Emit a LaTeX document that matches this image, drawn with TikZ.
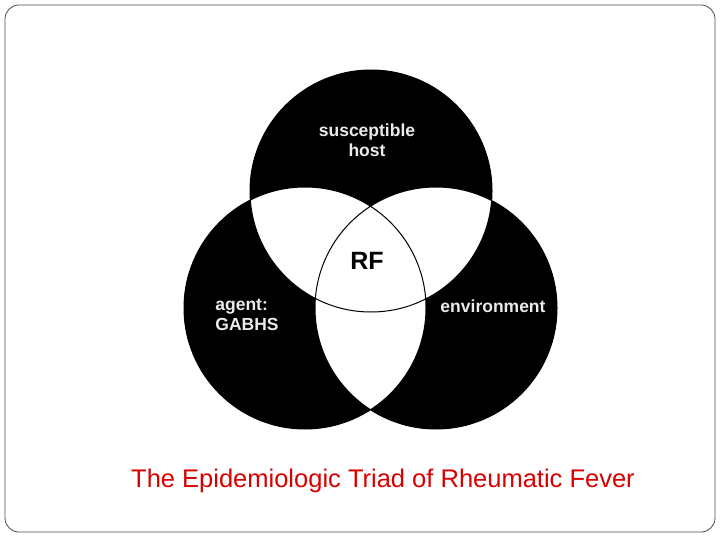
\documentclass[tikz,border=0pt]{standalone}
\usepackage{fontspec}
\setmainfont{Liberation Sans}
\begin{document}
\begin{tikzpicture}[x=1pt,y=-1pt,
  lab/.style={text=white!92!black,font=\fontsize{17.5}{20}\selectfont\bfseries,align=left},
  circ/.style={draw=black,line width=1pt}]
\useasboundingbox (0,0) rectangle (720,540);
\draw[rounded corners=14pt,line width=0.8pt,black!70] (5,5) rectangle (715,532);
\coordinate (T) at (371,191);
\coordinate (L) at (305,308);
\coordinate (R) at (436,308);
\def\rr{121}
\fill[black] (T) circle (\rr) (L) circle (\rr) (R) circle (\rr);
\begin{scope}\clip (T) circle (\rr); \fill[white] (L) circle (\rr) (R) circle (\rr); \end{scope}
\begin{scope}\clip (L) circle (\rr); \fill[white] (R) circle (\rr); \end{scope}
\draw[circ] (T) circle (\rr) (L) circle (\rr) (R) circle (\rr);
\node[lab,align=center] (host) at (367,140) {susceptible\\host};
\node[lab] (agent) at (247,315) {agent:\\GABHS};
\node[lab] (env) at (493,306) {environment};
\node[font=\fontsize{25}{28}\selectfont\bfseries] (rf) at (367,261) {RF};
\node[text=red!85!black,font=\fontsize{25.5}{28}\selectfont] (cap) at (383,481) {The Epidemiologic Triad of Rheumatic Fever};
\end{tikzpicture}
\end{document}
